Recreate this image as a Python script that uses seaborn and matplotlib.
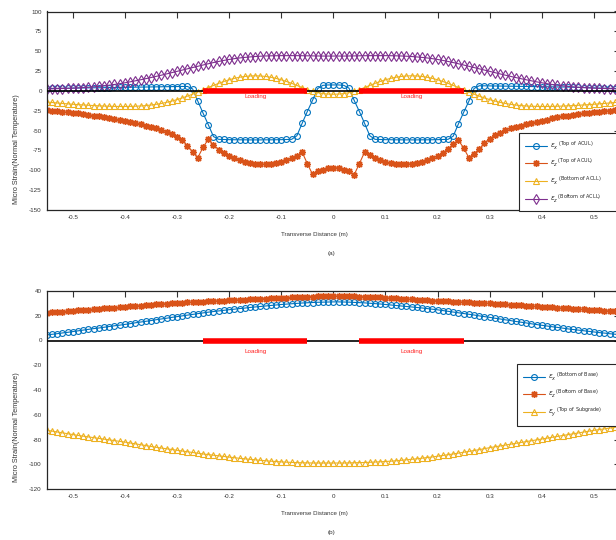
import numpy as np
import pandas as pd
import matplotlib
matplotlib.use("Agg")
import matplotlib.pyplot as plt
import seaborn as sns

# ---------------- data ----------------
x = np.round(np.linspace(-0.55, 0.55, 111), 2)

# (a) upper panel
top_ex_acul = [
    3.0, 3.1, 3.2, 3.3, 3.4, 3.5, 3.6, 3.7, 3.8, 3.9,
    4.0, 4.1, 4.2, 4.3, 4.4, 4.5, 4.6, 4.7, 4.8, 4.9,
    5.0, 5.1, 5.2, 5.3, 5.4, 5.5, 5.6, 5.6, 2.5, -13.0,
    -28.0, -42.5, -57.5, -61.0, -61.2, -61.4, -61.5, -61.6, -61.6, -61.7,
    -61.7, -61.7, -61.6, -61.6, -61.5, -61.4, -61.2, -61.0, -56.5, -41.0,
    -26.0, -12.0, 3.0, 7.0, 7.5, 7.5,
    7.5, 7.0, 3.5, -12.0, -26.0, -41.0, -56.5, -61.0, -61.2, -61.4,
    -61.5, -61.6, -61.6, -61.7, -61.7, -61.7, -61.6, -61.6, -61.5, -61.4,
    -61.2, -61.0, -57.0, -41.5, -27.0, -13.0, 3.0, 6.5, 6.4, 6.3,
    6.2, 6.1, 6.0, 5.9, 5.8, 5.7, 5.6, 5.5, 5.4, 5.3,
    5.2, 5.1, 5.0, 4.9, 4.8, 4.6, 4.4, 4.2, 4.0, 3.8,
    3.6, 3.4, 3.2, 3.0, 2.8]
top_ez_acul = [
    -24.5, -25.0, -25.6, -26.2, -26.9, -27.6, -28.3, -29.1, -30.0, -31.0,
    -32.0, -33.0, -34.1, -35.3, -36.5, -37.8, -39.2, -40.6, -42.1, -43.7,
    -45.4, -47.2, -49.3, -51.6, -54.2, -57.5, -62.0, -69.0, -77.0, -84.0,
    -71.0, -61.0, -68.0, -74.0, -78.5, -82.0, -85.0, -87.5, -89.5, -91.0,
    -91.8, -92.2, -92.2, -91.8, -91.0, -89.5, -87.5, -85.0, -81.5, -77.0,
    -91.5, -105.0, -101.5, -99.0, -97.0, -96.5,
    -97.0, -99.0, -101.5, -105.5, -91.5, -77.0, -81.0, -84.5, -87.5, -89.5,
    -91.0, -91.8, -92.2, -92.2, -91.8, -91.0, -89.5, -87.5, -85.0, -82.0,
    -78.0, -73.0, -67.0, -62.0, -72.0, -84.0, -79.0, -73.0, -66.0, -60.0,
    -56.0, -52.5, -49.5, -47.0, -45.3, -43.7, -42.0, -40.4, -39.0, -37.6,
    -36.1, -34.7, -33.4, -32.2, -31.0, -30.0, -29.0, -28.2, -27.4, -26.7,
    -26.0, -25.4, -24.9, -24.4, -24.0]
top_ex_acll = [
    -14.0, -14.6, -15.2, -15.8, -16.3, -16.8, -17.3, -17.7, -18.1, -18.5,
    -18.8, -19.1, -19.3, -19.5, -19.6, -19.6, -19.5, -19.3, -19.0, -18.5,
    -17.8, -16.9, -15.8, -14.4, -12.8, -11.0, -8.9, -6.6, -4.1, -1.4,
    1.4, 4.2, 6.9, 9.5, 11.9, 14.0, 15.8, 17.2, 18.2, 18.8,
    19.0, 18.8, 18.2, 17.2, 15.8, 14.0, 11.9, 9.5, 6.9, 4.2,
    1.6, -0.6, -2.3, -3.4, -4.0, -4.2,
    -4.0, -3.4, -2.3, -0.6, 1.6, 4.2, 6.9, 9.5, 11.9, 14.0,
    15.8, 17.2, 18.2, 18.8, 19.0, 18.8, 18.2, 17.2, 15.8, 14.0,
    11.9, 9.5, 6.9, 4.2, 1.4, -1.4, -4.1, -6.6, -8.9, -11.0,
    -12.8, -14.4, -15.8, -16.9, -17.8, -18.5, -19.0, -19.3, -19.5, -19.6,
    -19.6, -19.5, -19.3, -19.1, -18.8, -18.5, -18.1, -17.7, -17.3, -16.8,
    -16.3, -15.8, -15.2, -14.6, -14.0]
top_ez_acll = [
    2.5, 2.6, 2.8, 3.0, 3.2, 3.5, 3.8, 4.2, 4.6, 5.1,
    5.7, 6.4, 7.2, 8.1, 9.1, 10.2, 11.4, 12.7, 14.0, 15.4,
    16.8, 18.3, 19.8, 21.4, 23.0, 24.6, 26.2, 27.8, 29.4, 31.0,
    32.6, 34.2, 35.7, 37.1, 38.4, 39.6, 40.6, 41.5, 42.2, 42.8,
    43.3, 43.7, 44.0, 44.2, 44.3, 44.4, 44.4, 44.4, 44.4, 44.3,
    44.2, 44.1, 44.0, 43.9, 43.9, 43.9,
    43.9, 43.9, 44.0, 44.1, 44.2, 44.3, 44.4, 44.4, 44.4, 44.4,
    44.3, 44.2, 44.0, 43.7, 43.3, 42.8, 42.2, 41.5, 40.6, 39.6,
    38.4, 37.1, 35.7, 34.2, 32.6, 31.0, 29.4, 27.8, 26.2, 24.6,
    23.0, 21.4, 19.8, 18.3, 16.8, 15.4, 14.0, 12.7, 11.4, 10.2,
    9.1, 8.1, 7.2, 6.4, 5.7, 5.1, 4.6, 4.2, 3.8, 3.5,
    3.2, 3.0, 2.8, 2.6, 2.5]

# (b) lower panel
bot_ex_base = [
    4.5, 5.0, 5.5, 6.1, 6.6, 7.2,
    7.8, 8.4, 9.0, 9.6, 10.1, 10.7, 11.3, 11.9, 12.4, 13.0,
    13.6, 14.3, 14.9, 15.5, 16.1, 16.8, 17.4, 18.0, 18.7, 19.3,
    19.9, 20.5, 21.1, 21.7, 22.3, 22.9, 23.4, 23.9, 24.4, 24.9,
    25.3, 25.8, 26.2, 26.7, 27.1, 27.5, 27.9, 28.3, 28.7, 29.1,
    29.4, 29.7, 30.0, 30.3, 30.5, 30.7, 30.9, 31.0, 31.1, 31.2,
    31.2, 31.1, 31.0, 30.8, 30.6, 30.4, 30.1, 29.8, 29.5, 29.1,
    28.7, 28.3, 27.9, 27.5, 27.1, 26.7, 26.3, 25.8, 25.3, 24.8,
    24.2, 23.6, 23.0, 22.4, 21.8, 21.2, 20.6, 19.9, 19.3, 18.7,
    18.0, 17.4, 16.7, 16.1, 15.4, 14.8, 14.2, 13.5, 12.9, 12.3,
    11.7, 11.1, 10.6, 10.0, 9.4, 8.9, 8.4, 7.9, 7.4, 6.9,
    6.4, 6.0, 5.5, 5.1, 4.7]
bot_ez_base = [
    22.5, 22.8, 23.1, 23.4, 23.7, 24.0,
    24.3, 24.7, 25.0, 25.3, 25.6, 25.9, 26.3, 26.6, 26.9, 27.2,
    27.5, 27.9, 28.2, 28.5, 28.9, 29.2, 29.5, 29.8, 30.2, 30.5,
    30.7, 30.9, 31.1, 31.3, 31.5, 31.7, 31.9, 32.1, 32.3, 32.5,
    32.7, 32.9, 33.1, 33.3, 33.5, 33.7, 33.9, 34.1, 34.3, 34.5,
    34.7, 34.9, 35.1, 35.3, 35.4, 35.5, 35.6, 35.7, 35.8, 35.9,
    35.9, 35.8, 35.7, 35.6, 35.5, 35.3, 35.2, 35.0, 34.8, 34.5,
    34.3, 34.0, 33.8, 33.5, 33.3, 33.0, 32.8, 32.5, 32.3, 32.0,
    31.8, 31.6, 31.4, 31.2, 31.0, 30.8, 30.6, 30.4, 30.2, 30.0,
    29.7, 29.4, 29.2, 28.9, 28.6, 28.3, 28.0, 27.8, 27.5, 27.2,
    26.9, 26.7, 26.4, 26.1, 25.9, 25.6, 25.3, 25.1, 24.8, 24.5,
    24.3, 24.1, 23.9, 23.7, 23.5]
bot_ey_subgrade = [
    -72.5, -73.2, -73.9, -74.6, -75.3, -76.0,
    -76.7, -77.3, -77.9, -78.5, -79.1, -79.7, -80.3, -80.9, -81.5, -82.1,
    -82.8, -83.5, -84.2, -84.9, -85.6, -86.3, -86.9, -87.5, -88.1, -88.7,
    -89.3, -89.9, -90.5, -91.1, -91.7, -92.2, -92.7, -93.2, -93.7, -94.2,
    -94.7, -95.2, -95.6, -96.0, -96.4, -96.8, -97.2, -97.5, -97.8, -98.1,
    -98.3, -98.5, -98.7, -98.8, -98.9, -99.0, -99.0, -99.0, -99.0, -99.0,
    -99.0, -99.0, -98.9, -98.8, -98.7, -98.6, -98.4, -98.2, -98.0, -97.8,
    -97.5, -97.2, -96.8, -96.4, -96.0, -95.6, -95.1, -94.6, -94.1, -93.5,
    -92.9, -92.3, -91.7, -91.0, -90.3, -89.6, -88.9, -88.2, -87.4, -86.6,
    -85.9, -85.2, -84.5, -83.8, -83.1, -82.4, -81.7, -81.0, -80.3, -79.6,
    -78.9, -78.2, -77.5, -76.8, -76.1, -75.4, -74.7, -74.0, -73.3, -72.6,
    -72.0, -71.4, -70.8, -70.2, -69.6]

top_labels = [r'$\epsilon_x\,{}^{\rm (Top\ of\ ACUL)}$',
              r'$\epsilon_z\,{}^{\rm (Top\ of\ ACUL)}$',
              r'$\epsilon_x\,{}^{\rm (Bottom\ of\ ACLL)}$',
              r'$\epsilon_z\,{}^{\rm (Bottom\ of\ ACLL)}$']
bot_labels = [r'$\epsilon_x\,{}^{\rm (Bottom\ of\ Base)}$',
              r'$\epsilon_z\,{}^{\rm (Bottom\ of\ Base)}$',
              r'$\epsilon_y\,{}^{\rm (Top\ of\ Subgrade)}$']

xticks = [-0.5, -0.4, -0.3, -0.2, -0.1, 0.0, 0.1, 0.2, 0.3, 0.4, 0.5]
xtick_labels = ['-0.5', '-0.4', '-0.3', '-0.2', '-0.1', '0', '0.1', '0.2', '0.3', '0.4', '0.5']
top_yticks = [-150, -125, -100, -75, -50, -25, 0, 25, 50, 75, 100]
bot_yticks = [-120, -100, -80, -60, -40, -20, 0, 20, 40]
loading_spans = [(-0.25, -0.05), (0.05, 0.25)]
loading_text_x = [-0.15, 0.15]

# ---------------- style ----------------
sns.set_theme(style="white")
plt.rcParams['font.family'] = ['Liberation Sans Narrow', 'Liberation Sans', 'DejaVu Sans']
plt.rcParams['axes.unicode_minus'] = False

C_BLUE, C_ORANGE, C_YELLOW, C_PURPLE = '#0072BD', '#D95319', '#EDB120', '#7E2F8E'
TXT = '#333333'

W, H = 616, 540
fig = plt.figure(figsize=(W / 100, H / 100), dpi=100)
ax1 = fig.add_axes([46.7 / W, 1 - 210 / H, (620 - 46.7) / W, 198.5 / H])
ax2 = fig.add_axes([46.7 / W, 1 - 489 / H, (620 - 46.7) / W, 198.0 / H])

def draw(ax, y, color, marker, label, ms, mew=0.8):
    kw = dict(markerfacecolor='none') if marker != (8, 2, 0) else {}
    sns.lineplot(x=x, y=y, ax=ax, color=color, marker=marker, markersize=ms,
                 markeredgecolor=color, markeredgewidth=mew, linewidth=0.8,
                 label=label, zorder=2, **kw)

draw(ax1, top_ex_acul, C_BLUE, 'o', top_labels[0], 4.2)
draw(ax1, top_ez_acul, C_ORANGE, (8, 2, 0), top_labels[1], 5.0, 1.0)
draw(ax1, top_ex_acll, C_YELLOW, '^', top_labels[2], 4.6)
draw(ax1, top_ez_acll, C_PURPLE, 'd', top_labels[3], 5.2)

draw(ax2, bot_ex_base, C_BLUE, 'o', bot_labels[0], 4.2)
draw(ax2, bot_ez_base, C_ORANGE, (8, 2, 0), bot_labels[1], 5.0, 1.0)
draw(ax2, bot_ey_subgrade, C_YELLOW, '^', bot_labels[2], 4.6)

for ax, yt, ylim, txt_y in ((ax1, top_yticks, (-150, 100), -7.0),
                            (ax2, bot_yticks, (-120, 40), -8.5)):
    ax.axhline(0, color='black', linewidth=1.2, zorder=3)
    for (a, b), tx in zip(loading_spans, loading_text_x):
        ax.hlines(0, a, b, color='#FF0000', linewidth=4.0, zorder=4)
        ax.text(tx, txt_y, 'Loading', color='#FF2020', fontsize=4.5,
                ha='center', va='center', zorder=5)
    ax.set_xlim(-0.55, 0.55)
    ax.set_ylim(*ylim)
    ax.set_xticks(xticks)
    ax.set_xticklabels(xtick_labels)
    ax.set_yticks(yt)
    ax.set_yticklabels([str(v) for v in yt])
    ax.tick_params(direction='in', length=4.5, width=0.8, top=True, right=True,
                   labelsize=4.5, colors=TXT, pad=3.5)
    ax.set_xlabel('')
    ax.set_ylabel('')
    for s in ax.spines.values():
        s.set_visible(True)
        s.set_color('#262626')
        s.set_linewidth(0.9)

def make_legend(ax, x0, top_px, bottom_px):
    leg = ax.legend(loc='upper left',
                    bbox_to_anchor=(x0 / W, 1 - bottom_px / H, 120 / W, (bottom_px - top_px) / H),
                    bbox_transform=fig.transFigure, mode='expand', fontsize=5,
                    frameon=True, fancybox=False, edgecolor='#262626',
                    handlelength=3.2, labelspacing=0.75, borderpad=0.9,
                    handletextpad=0.3, borderaxespad=0)
    leg.get_frame().set_linewidth(0.8)
    leg.get_frame().set_alpha(1)
    return leg

make_legend(ax1, 519, 133, 210)
make_legend(ax2, 517, 364, 423)

# axis titles and panel captions
fig.text(314 / W, 1 - 235 / H, 'Transverse Distance (m)', fontsize=4.4, color=TXT,
         ha='center', va='center')
fig.text(331.7 / W, 1 - 253 / H, '(a)', fontsize=4.6, color=TXT, ha='center', va='center')
fig.text(314 / W, 1 - 513.5 / H, 'Transverse Distance (m)', fontsize=4.4, color=TXT,
         ha='center', va='center')
fig.text(331.7 / W, 1 - 532.5 / H, '(b)', fontsize=4.6, color=TXT, ha='center', va='center')
fig.text(17 / W, 1 - 149 / H, 'Micro Strain(Normal Temperature)', fontsize=5.2, color=TXT,
         ha='center', va='center', rotation=90)
fig.text(17 / W, 1 - 427 / H, 'Micro Strain(Normal Temperature)', fontsize=5.2, color=TXT,
         ha='center', va='center', rotation=90)

fig.savefig('out.png', dpi=100)
